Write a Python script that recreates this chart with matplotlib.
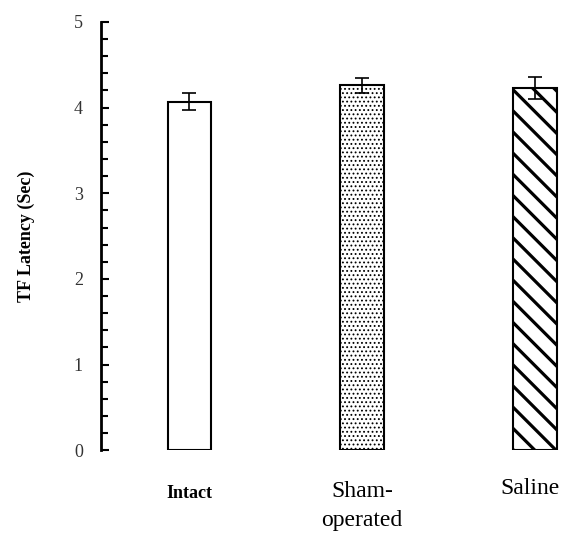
import numpy as np
from matplotlib import pyplot as plt
from matplotlib.ticker import MultipleLocator

plt.rcParams['font.family'] = ['Liberation Serif', 'DejaVu Serif']

groups = ["Intact", "Sham-\noperated", "Saline"]
latency = [4.07, 4.26, 4.23]
sem = [0.10, 0.09, 0.13]
hatches = ["", ".....", "\\\\"]

# hatch spacing follows the dpi, so render at 127 dpi and shrink point sizes
DPI = 127
pt = 100 / DPI

fig = plt.figure(figsize=(580 / DPI, 536 / DPI), dpi=DPI)
ax = fig.add_axes([0.174, 0.160, 0.826, 0.799])

x = np.arange(len(groups))
for i in range(len(groups)):
    plt.rcParams['hatch.linewidth'] = (0.8 if hatches[i] == "....." else 2.3) * pt
    ax.bar(x[i], latency[i], width=0.25, color="white", edgecolor="black",
           linewidth=1.5 * pt, hatch=hatches[i], zorder=2)
ax.errorbar(x, latency, yerr=sem, fmt="none", ecolor="black",
            elinewidth=1.2 * pt, capsize=5 * pt, capthick=1.2 * pt, zorder=3)

ax.set_xlim(-0.51, 2.26)
ax.set_ylim(0, 5)
ax.yaxis.set_major_locator(MultipleLocator(1))
ax.yaxis.set_minor_locator(MultipleLocator(0.2))
ax.tick_params(axis="y", which="both", direction="in", width=1.5 * pt,
               labelsize=13 * pt, labelcolor="#333333", pad=13 * pt)
ax.tick_params(axis="y", which="major", length=6 * pt)
ax.tick_params(axis="y", which="minor", length=5 * pt)
ax.set_xticks([])
for side in ["top", "right", "bottom"]:
    ax.spines[side].set_visible(False)
ax.spines["left"].set_linewidth(2 * pt)

# category labels under the bars
ax.text(x[0], -0.40, groups[0], ha="center", va="top", fontsize=13 * pt,
        fontweight="bold")
ax.text(x[1], -0.36, groups[1], ha="center", va="top", fontsize=17 * pt,
        linespacing=1.5)
ax.text(x[2] - 0.03, -0.32, groups[2], ha="center", va="top", fontsize=17 * pt)

ax.set_ylabel("TF Latency (Sec)", fontsize=13 * pt, fontweight="bold",
              labelpad=28 * pt)

plt.savefig("out.png", dpi=DPI)
